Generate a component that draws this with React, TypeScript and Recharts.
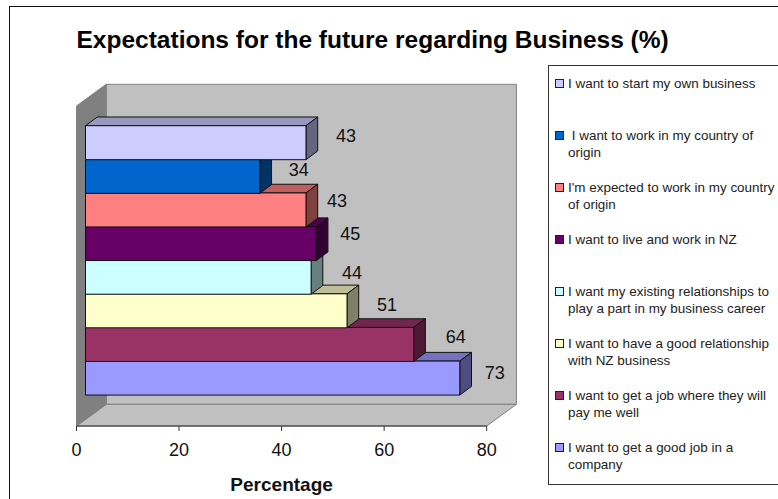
import React from "react";
import { BarChart, Bar, XAxis, YAxis, ReferenceArea, LabelList } from "recharts";

const statements = [
  "I want to start my own business",
  " I want to work in my country of origin",
  "I'm expected to work in my country of origin",
  "I want to live and work in NZ",
  "I want my existing relationships to play a part in my business career",
  "I want to have a good relationship with NZ business",
  "I want to get a job where they will pay me well",
  "I want to get a good job in a company",
];
const percentages = [43, 34, 43, 45, 44, 51, 64, 73];
const barColors = ["#CCCCFF", "#0066CC", "#FF8080", "#660066", "#CCFFFF", "#FFFFCC", "#993366", "#9999FF"];
const xTicks = [0, 20, 40, 60, 80];

// Value labels sit at hand-placed distances from the end of each bar.
const labelDx = [49, 48, 40, 43, 50, 49, 51, 44];
const labelDy = [-6.5, -6, -9, -9.3, -4.2, -5.5, -7.4, -4.7];

const FONT = "'Liberation Sans', Arial, sans-serif";

// Rows are painted from the bottom bar upward so upper bars overlap the top face of the lower ones.
const rows = statements
  .map((name, i) => ({ name, value: percentages[i], fill: barColors[i], labelDx: labelDx[i], labelDy: labelDy[i] }))
  .reverse();

const shade = (hex: string, k: number) => {
  const n = parseInt(hex.slice(1), 16);
  const c = (v: number) => Math.round(v * k);
  return `rgb(${c((n >> 16) & 255)},${c((n >> 8) & 255)},${c(n & 255)})`;
};

const WALL_DX = 29.7;
const WALL_DY = 21.7;
const BAR_INSET = 9;
const BAR_DX = 11.7;
const BAR_DY = 8.7;
const PAD_TOP = 19.7;
const PAD_BOTTOM = 31.3;

// Side wall, back wall and floor of the 3D box. The area spans only the padded
// category band, so the paddings are added back to reach the full plot height.
const Walls = (props: any) => {
  const { x, width } = props;
  const y = props.y - PAD_TOP;
  const r = x + width;
  const b = props.y + props.height + PAD_BOTTOM;
  const edge = "#808080";
  return (
    <g>
      <polygon
        points={`${x + WALL_DX},${y - WALL_DY} ${r + WALL_DX},${y - WALL_DY} ${r + WALL_DX},${b - WALL_DY} ${x + WALL_DX},${b - WALL_DY}`}
        fill="#C0C0C0"
        stroke={edge}
      />
      <polygon
        points={`${x},${b} ${r},${b} ${r + WALL_DX},${b - WALL_DY} ${x + WALL_DX},${b - WALL_DY}`}
        fill="#C0C0C0"
        stroke={edge}
      />
      <polygon
        points={`${x},${y} ${x + WALL_DX},${y - WALL_DY} ${x + WALL_DX},${b - WALL_DY} ${x},${b}`}
        fill="#808080"
        stroke={edge}
      />
    </g>
  );
};

// A bar drawn as a box: front face plus shaded top and side faces.
const BoxBar = (props: any) => {
  const { x, y, width, height, payload } = props;
  const l = x + BAR_INSET;
  const r = l + width;
  const b = y + height;
  const line = { stroke: "#111", strokeWidth: 1, strokeLinejoin: "round" as const };
  return (
    <g>
      <polygon
        points={`${l},${y} ${r},${y} ${r + BAR_DX},${y - BAR_DY} ${l + BAR_DX},${y - BAR_DY}`}
        fill={shade(payload.fill, 0.75)}
        {...line}
      />
      <polygon
        points={`${r},${y} ${r + BAR_DX},${y - BAR_DY} ${r + BAR_DX},${b - BAR_DY} ${r},${b}`}
        fill={shade(payload.fill, 0.5)}
        {...line}
      />
      <rect x={l} y={y} width={width} height={height} fill={payload.fill} {...line} />
    </g>
  );
};

const ValueLabel = (props: any) => {
  const { x, y, width, height, value, index } = props;
  const row = rows[index];
  return (
    <text
      x={x + width + row.labelDx}
      y={y + height / 2 + row.labelDy}
      textAnchor="middle"
      dominantBaseline="central"
      fontFamily={FONT}
      fontSize={18}
      fill="#111"
    >
      {value}
    </text>
  );
};

export default function App() {
  return (
    <div style={{ position: "absolute", left: 0, top: 0, width: 778, height: 499, overflow: "hidden", background: "#fff" }}>
      <div
        style={{
          position: "absolute",
          left: 9,
          top: 6,
          width: 780,
          height: 500,
          borderLeft: "1.5px solid #111",
          borderTop: "1.5px solid #111",
        }}
      />
      <div
        style={{
          position: "absolute",
          left: 76.5,
          top: 26,
          fontFamily: FONT,
          fontWeight: 700,
          fontSize: 24.5,
          lineHeight: "28px",
          whiteSpace: "nowrap",
          color: "#000",
        }}
      >
        Expectations for the future regarding Business (%)
      </div>

      <div style={{ position: "absolute", left: 0, top: 0 }}>
        <BarChart
          width={778}
          height={499}
          layout="vertical"
          data={rows}
          barCategoryGap={0}
          margin={{ top: 106, left: 76.5, right: 291.3, bottom: 43 }}
        >
          <XAxis
            type="number"
            domain={[0, 80]}
            ticks={xTicks}
            interval={0}
            tickSize={5}
            tickMargin={12}
            allowDecimals={false}
            stroke="#333"
            tick={{ fontFamily: FONT, fontSize: 18, fill: "#111" }}
            label={{
              value: "Percentage",
              position: "bottom",
              offset: 22,
              style: { fontFamily: FONT, fontWeight: 700, fontSize: 19, fill: "#111" },
            }}
          />
          <YAxis type="category" dataKey="name" hide reversed padding={{ top: PAD_TOP, bottom: PAD_BOTTOM }} />
          <ReferenceArea x1={0} x2={80} ifOverflow="visible" shape={Walls} />
          <Bar dataKey="value" shape={BoxBar} isAnimationActive={false}>
            <LabelList dataKey="value" content={ValueLabel} />
          </Bar>
        </BarChart>
      </div>

      <div
        style={{
          position: "absolute",
          left: 548,
          top: 65,
          width: 240,
          height: 418,
          border: "1.5px solid #333",
          background: "#fff",
        }}
      />
      {statements.map((s, i) => (
        <div key={s} style={{ position: "absolute", left: 555, top: 75 + 52 * i, width: 224, fontFamily: FONT, fontSize: 13.45, lineHeight: "17px", color: "#222" }}>
          <span
            style={{
              position: "absolute",
              left: 0,
              top: 4,
              width: 7,
              height: 7,
              background: barColors[i],
              border: "1px solid #222",
            }}
          />
          <div style={{ marginLeft: 13, whiteSpace: "pre-wrap" }}>{s}</div>
        </div>
      ))}
    </div>
  );
}
